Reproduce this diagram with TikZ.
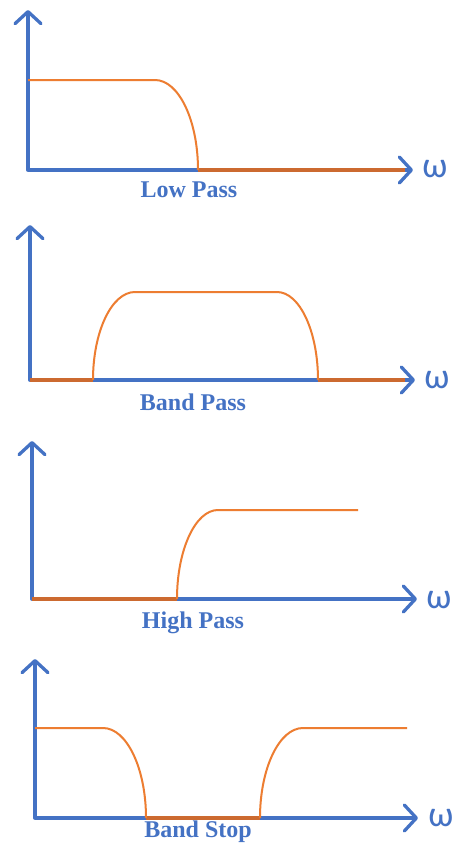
\documentclass[tikz,border=0pt]{standalone}
\usepackage{fontspec}
\setmainfont{Liberation Serif}
\newfontfamily\omegafont{Carlito}
\usetikzlibrary{arrows.meta}
\definecolor{axblue}{HTML}{4472C4}
\definecolor{resp}{HTML}{ED7D31}
\definecolor{respdark}{HTML}{CC6A30}
\begin{document}
\begin{tikzpicture}[x=1pt,y=-1pt,
  axisline/.style={draw=axblue, line width=3.3pt, line cap=round, line join=round,
    {Straight Barb[length=12pt,width=26pt,round]}-{Straight Barb[length=12pt,width=26pt,round]}},
  respline/.style={draw=resp, line width=2pt},
  respaxis/.style={draw=respdark, line width=3.3pt},
  lbl/.style={text=axblue, font=\fontsize{24}{26}\selectfont\bfseries, anchor=base, inner sep=0pt},
  om/.style={text=axblue, font=\omegafont\fontsize{36}{38}\selectfont, anchor=base, inner sep=0pt}]
\useasboundingbox[fill=white] (0,0) rectangle (455,852);
% Low pass
\draw[axisline] (28,10) -- (28,170) -- (413,170);
\draw[respaxis] (198,170) -- (405,170);
\draw[respline] (28,80) -- (155,80) .. controls (178.7,80) and (198,120.3) .. (198,170);
\node[lbl] (lp) at (189,197) {Low Pass};
\node[om] (w1) at (435,177) {ω};
% Band pass
\draw[axisline] (30,225) -- (30,380) -- (415,380);
\draw[respaxis] (30,380) -- (93,380);
\draw[respaxis] (318,380) -- (405,380);
\draw[respline] (93,380) .. controls (93,331.4) and (111.8,292) .. (135,292) -- (277,292)
  .. controls (299.6,292) and (318,331.4) .. (318,380);
\node[lbl] (bp) at (193,410) {Band Pass};
\node[om] (w2) at (437,388) {ω};
% High pass
\draw[axisline] (32,441) -- (32,599) -- (417,599);
\draw[respaxis] (32,599) -- (177,599);
\draw[respline] (177,599) .. controls (177,549.8) and (195.4,510) .. (218,510) -- (358,510);
\node[lbl] (hp) at (193,628) {High Pass};
\node[om] (w3) at (439,608) {ω};
% Band stop
\draw[axisline] (35,659) -- (35,818) -- (418,818);
\draw[respaxis] (146,818) -- (260,818);
\draw[respline] (35,728) -- (103,728) .. controls (126.7,728) and (146,768.3) .. (146,818);
\draw[respline] (260,818) .. controls (260,768.3) and (279.3,728) .. (303,728) -- (407,728);
\node[lbl] (bs) at (198,837) {Band Stop};
\node[om] (w4) at (441,826) {ω};
\end{tikzpicture}
\end{document}
